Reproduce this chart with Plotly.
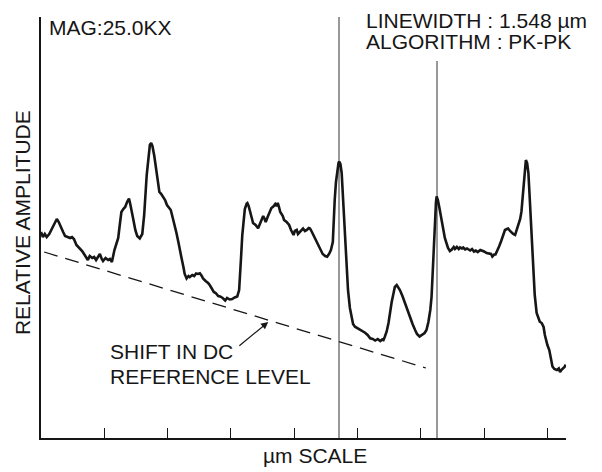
import plotly.graph_objects as go

# --- Linescan signal (position in µm, relative amplitude in arbitrary units) ---
scan_x = [0.00, 0.03, 0.06, 0.09, 0.13, 0.19, 0.23, 0.25, 0.28, 0.31, 0.35, 0.38, 0.42, 0.46, 0.49, 0.52,
          0.56, 0.61, 0.65, 0.69, 0.72, 0.74, 0.77, 0.81, 0.84, 0.87, 0.90, 0.93, 0.96, 0.98, 1.02, 1.06,
          1.09, 1.12, 1.16, 1.19, 1.22, 1.25, 1.27, 1.30, 1.33, 1.36, 1.39, 1.41, 1.44, 1.46, 1.49, 1.52,
          1.56, 1.60, 1.63, 1.65, 1.67, 1.70, 1.72, 1.74, 1.76, 1.79, 1.82, 1.85, 1.87, 1.90, 1.93, 1.96,
          1.99, 2.01, 2.05, 2.07, 2.09, 2.12, 2.14, 2.17, 2.20, 2.22, 2.25, 2.27, 2.30, 2.33, 2.35, 2.39,
          2.42, 2.45, 2.48, 2.51, 2.54, 2.56, 2.60, 2.64, 2.67, 2.70, 2.73, 2.76, 2.80, 2.83, 2.87, 2.91,
          2.94, 2.98, 3.02, 3.06, 3.10, 3.13, 3.14, 3.16, 3.18, 3.20, 3.22, 3.25, 3.26, 3.28, 3.30, 3.33,
          3.35, 3.39, 3.43, 3.46, 3.49, 3.51, 3.53, 3.55, 3.58, 3.62, 3.64, 3.67, 3.70, 3.72, 3.74, 3.76,
          3.78, 3.82, 3.84, 3.88, 3.92, 3.95, 3.99, 4.01, 4.04, 4.06, 4.09, 4.12, 4.14, 4.17, 4.20, 4.23,
          4.25, 4.28, 4.32, 4.35, 4.38, 4.42, 4.45, 4.49, 4.52, 4.55, 4.58, 4.61, 4.62, 4.64, 4.66, 4.68,
          4.70, 4.71, 4.73, 4.75, 4.76, 4.78, 4.80, 4.82, 4.84, 4.85, 4.88, 4.91, 4.93, 4.96, 5.00, 5.04,
          5.08, 5.12, 5.16, 5.20, 5.24, 5.28, 5.32, 5.36, 5.39, 5.41, 5.43, 5.46, 5.49, 5.51, 5.54, 5.57,
          5.59, 5.62, 5.64, 5.67, 5.71, 5.75, 5.79, 5.83, 5.87, 5.91, 5.94, 5.98, 6.02, 6.06, 6.09, 6.12,
          6.15, 6.17, 6.19, 6.21, 6.22, 6.24, 6.25, 6.27, 6.29, 6.31, 6.33, 6.36, 6.38, 6.41, 6.43, 6.46,
          6.49, 6.52, 6.54, 6.57, 6.60, 6.62, 6.65, 6.67, 6.70, 6.73, 6.75, 6.78, 6.81, 6.84, 6.87, 6.90,
          6.94, 6.97, 7.00, 7.04, 7.08, 7.11, 7.13, 7.16, 7.18, 7.20, 7.24, 7.27, 7.30, 7.33, 7.36, 7.38,
          7.41, 7.44, 7.46, 7.49, 7.51, 7.54, 7.57, 7.59, 7.61, 7.63, 7.65, 7.66, 7.68, 7.70, 7.72, 7.74,
          7.76, 7.78, 7.80, 7.83, 7.86, 7.88, 7.91, 7.94, 7.96, 7.98, 8.00, 8.03, 8.06, 8.08, 8.11, 8.15,
          8.18, 8.20, 8.22, 8.25, 8.27, 8.29]
scan_y = [206, 201, 204, 201, 204, 211, 216, 219, 216, 211, 206, 202, 201, 200, 201, 199,
          193, 190, 187, 183, 180, 178, 182, 180, 181, 178, 181, 184, 179, 177, 180, 178,
          179, 176, 188, 193, 200, 216, 226, 229, 231, 236, 239.5, 234, 226, 218, 208, 202,
          199.5, 204, 223, 243, 263, 281, 293, 295, 292, 282, 268, 253, 246, 244, 241, 238,
          233, 231, 228, 223, 218, 212, 205, 196, 188, 180, 171, 164, 159.5, 162, 161, 163,
          162, 164.5, 164, 164.7, 162, 159.5, 157, 155, 152.5, 149, 146, 145, 142, 141.5, 140, 137.5,
          140, 138.5, 139, 140.5, 141.5, 148, 163, 180, 203, 216, 229, 234.5, 235, 232, 226, 220,
          215, 213, 209.7, 214, 218, 222, 219.5, 216, 221, 228, 230, 231.5, 234, 232, 235, 231,
          226, 222, 218, 216, 213, 208, 203, 207, 208, 204, 206.5, 209, 209.5, 207, 208, 210,
          209.5, 206, 201, 197, 193, 189, 184, 182, 181.3, 184, 188, 196, 213, 238, 256, 268,
          275, 276.5, 274, 265, 253, 238, 213, 188, 166, 148, 130, 119, 114, 111.3, 110, 108,
          107, 105.3, 103, 99.7, 99, 97.5, 99, 97, 98.5, 98, 101, 106.3, 115, 125, 136, 145,
          151, 153, 151, 148, 142, 134.7, 128, 121.3, 114, 108, 104, 101.5, 103, 105, 108, 116,
          128, 141, 168, 193, 220, 236, 241.5, 238, 231.5, 224, 215, 207, 200, 194, 190, 187,
          188.5, 191, 189, 191, 189, 190.5, 189.5, 190.5, 188.5, 189.5, 189, 187.5, 189, 186.5, 187.5, 186,
          188, 187.5, 186.5, 185, 184.5, 184, 181.5, 183.5, 183.5, 187, 192, 197, 202, 208, 209, 209.5,
          207, 205, 204, 203, 207, 213, 219, 226.3, 242, 255, 268, 278, 275, 265, 241, 215,
          190, 165, 143, 125, 120, 116.3, 115, 111, 103, 96.3, 93, 88, 80, 71.5, 69, 68,
          69.5, 66, 68, 69.7, 71, 73.5]

# --- Measurement cursors (PK-PK algorithm) ---
linewidth_um = 1.548
cursor_left = 4.708
cursor_x = [cursor_left, cursor_left + linewidth_um]
cursor_top = [421, 377]

# --- Drifting DC reference level (dashed) ---
dc_x = [0.05, 6.08]
dc_y = [186, 70]

# --- Axis scale ---
x_range = [0, 8.294]
y_range = [0, 421]
tick_um = [1, 2, 3, 4, 5, 6, 7, 8]

# --- Annotation arrow (tail -> head) ---
arrow_tail = (3.11, 91)
arrow_head = (3.59, 116)

INK = "#161616"
FONT = "Liberation Sans, Arial, sans-serif"

fig = go.Figure()

fig.add_trace(go.Scatter(x=dc_x, y=dc_y, mode="lines",
                         line=dict(color=INK, width=1.3, dash="14px,8px"),
                         hoverinfo="skip", showlegend=False))

for cx, ct in zip(cursor_x, cursor_top):
    fig.add_trace(go.Scatter(x=[cx, cx], y=[0, ct], mode="lines",
                             line=dict(color="#333333", width=1),
                             hoverinfo="skip", showlegend=False))

fig.add_trace(go.Scatter(x=scan_x, y=scan_y, mode="lines",
                         line=dict(color=INK, width=2.6),
                         showlegend=False))

fig.add_annotation(x=arrow_head[0], y=arrow_head[1], ax=arrow_tail[0], ay=arrow_tail[1],
                   xref="x", yref="y", axref="x", ayref="y", text="",
                   showarrow=True, arrowhead=2, arrowsize=1.2, arrowwidth=1.2, arrowcolor=INK)

txt_font = dict(family=FONT, size=21, color=INK)


def label(text, x, y, **kw):
    opts = dict(xanchor="left", yanchor="middle", align="left")
    opts.update(kw)
    fig.add_annotation(text=text, xref="paper", yref="paper", x=x, y=y,
                       showarrow=False, font=txt_font, **opts)


label("SHIFT IN DC", 0.128, 0.2045)
label("REFERENCE LEVEL", 0.128, 0.145)
label("MAG:25.0KX", 0.011, 0.974)
label("LINEWIDTH : 1.548 µm", 0.615, 0.9917)
label("ALGORITHM : PK-PK", 0.615, 0.9418)
label("µm SCALE", 0.522, -0.0404, xanchor="center")
label("RELATIVE AMPLITUDE", -0.035, 0.512, xanchor="center", textangle=-90)

fig.update_layout(
    width=602, height=472,
    margin=dict(l=41, r=36, t=17, b=34),
    paper_bgcolor="white", plot_bgcolor="white",
    showlegend=False,
    xaxis=dict(range=x_range, showgrid=False, zeroline=False, showline=True,
               linecolor=INK, linewidth=1.6, ticks="inside", ticklen=10, tickwidth=1.4,
               tickcolor=INK, tickvals=tick_um, showticklabels=False),
    yaxis=dict(range=y_range, showgrid=False, zeroline=False, showline=True,
               linecolor=INK, linewidth=1.6, ticks="", showticklabels=False),
)

fig.write_html("out.html")
